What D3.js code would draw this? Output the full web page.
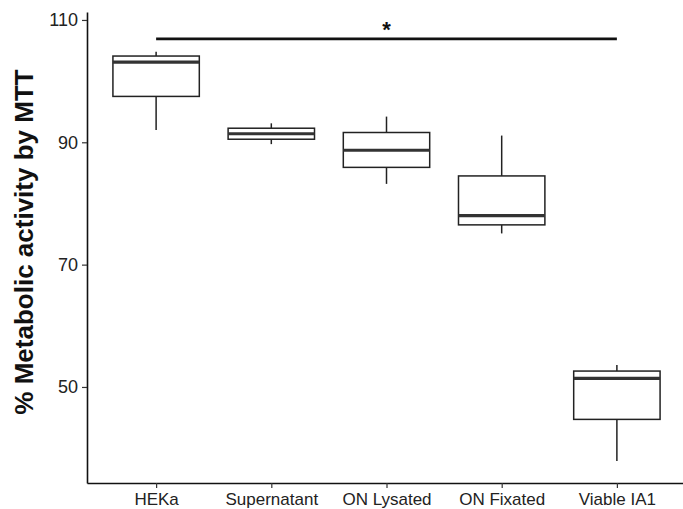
<!DOCTYPE html>
<html>
<head>
<meta charset="utf-8">
<script src="https://cdn.jsdelivr.net/npm/d3@7"></script>
<style>
  body { margin: 0; background: #fff; }
</style>
</head>
<body>
<div id="box_chart"></div>
<script>
    // data
    var categories = ["HEKa", "Supernatant", "ON Lysated", "ON Fixated", "Viable IA1"];
    var whiskerLow  = [92.0, 89.7, 83.2, 75.1, 37.9];
    var q1          = [97.5, 90.5, 85.9, 76.5, 44.7];
    var median      = [103.1, 91.4, 88.7, 78.0, 51.4];
    var q3          = [104.1, 92.3, 91.6, 84.5, 52.6];
    var whiskerHigh = [104.8, 93.1, 94.2, 91.1, 53.6];
    var yTicks = [50, 70, 90, 110];

    // significance bar
    var sigFrom = "HEKa", sigTo = "Viable IA1", sigY = 106.9, sigLabel = "*";

    // set the dimensions and margins of the graph
    var margin = {top: 12, right: 0, bottom: 26, left: 87},
        width = 683 - margin.left - margin.right,
        height = 509 - margin.top - margin.bottom;

    var svg = d3.select("#box_chart")
      .append("svg")
        .attr("width", 683)
        .attr("height", 509)
        .style("font-family", "'Liberation Sans', Arial, sans-serif")
      .append("g")
        .attr("transform", "translate(" + margin.left + "," + margin.top + ")");

    // x scale (ggplot style discrete expansion of 0.6)
    var x = d3.scalePoint()
      .domain(categories)
      .range([0, width + 3])
      .padding(0.6);
    var boxW = x.step() * 0.75;

    // y scale
    var y = d3.scaleLinear()
      .domain([34.3, 111.3])
      .range([height, 0]);

    // x axis
    var xAxis = svg.append("g")
      .attr("transform", "translate(0," + height + ")")
      .call(d3.axisBottom(x).tickSize(5).tickSizeOuter(0));
    xAxis.select(".domain").attr("stroke", "#111").attr("stroke-width", 1.6);
    xAxis.selectAll(".tick line").attr("stroke", "#333").attr("stroke-width", 1.2);
    xAxis.selectAll(".tick text")
      .attr("fill", "#222")
      .style("font-size", "17px")
      .attr("y", 10)
      .attr("dy", "0.71em");

    // y axis
    var yAxis = svg.append("g")
      .call(d3.axisLeft(y).tickValues(yTicks).tickSize(5).tickSizeOuter(0));
    yAxis.select(".domain").attr("stroke", "#111").attr("stroke-width", 1.6);
    yAxis.selectAll(".tick line").attr("stroke", "#333").attr("stroke-width", 1.2);
    yAxis.selectAll(".tick text")
      .attr("fill", "#222")
      .attr("x", -9)
      .style("font-size", "18px");

    // y axis label
    svg.append("text")
      .attr("transform", "rotate(-90)")
      .attr("x", -(242 - margin.top))
      .attr("y", 33 - margin.left)
      .style("text-anchor", "middle")
      .style("font-size", "26px")
      .style("font-weight", "bold")
      .attr("fill", "#111")
      .text("% Metabolic activity by MTT");

    var rows = categories.map(function(c, i) {
      return {cat: c, lo: whiskerLow[i], q1: q1[i], med: median[i], q3: q3[i], hi: whiskerHigh[i]};
    });

    var boxes = svg.selectAll(".box")
      .data(rows)
      .enter().append("g")
        .attr("class", "box");

    // whiskers
    boxes.append("line")
      .attr("x1", function(d) { return x(d.cat); })
      .attr("x2", function(d) { return x(d.cat); })
      .attr("y1", function(d) { return y(d.hi); })
      .attr("y2", function(d) { return y(d.q3); })
      .attr("stroke", "#222").attr("stroke-width", 1.5);
    boxes.append("line")
      .attr("x1", function(d) { return x(d.cat); })
      .attr("x2", function(d) { return x(d.cat); })
      .attr("y1", function(d) { return y(d.q1); })
      .attr("y2", function(d) { return y(d.lo); })
      .attr("stroke", "#222").attr("stroke-width", 1.5);

    // boxes
    boxes.append("rect")
      .attr("x", function(d) { return x(d.cat) - boxW / 2; })
      .attr("y", function(d) { return y(d.q3); })
      .attr("width", boxW)
      .attr("height", function(d) { return y(d.q1) - y(d.q3); })
      .attr("fill", "#fff")
      .attr("stroke", "#222")
      .attr("stroke-width", 1.5);

    // medians
    boxes.append("line")
      .attr("x1", function(d) { return x(d.cat) - boxW / 2; })
      .attr("x2", function(d) { return x(d.cat) + boxW / 2; })
      .attr("y1", function(d) { return y(d.med); })
      .attr("y2", function(d) { return y(d.med); })
      .attr("stroke", "#333").attr("stroke-width", 3.2);

    // significance line and star
    svg.append("line")
      .attr("x1", x(sigFrom))
      .attr("x2", x(sigTo))
      .attr("y1", y(sigY))
      .attr("y2", y(sigY))
      .attr("stroke", "#111")
      .attr("stroke-width", 2.6);
    svg.append("text")
      .attr("x", (x(sigFrom) + x(sigTo)) / 2)
      .attr("y", y(sigY) - 2)
      .style("text-anchor", "middle")
      .style("font-size", "22px")
      .style("font-weight", "bold")
      .attr("fill", "#111")
      .text(sigLabel);
</script>
</body>
</html>
